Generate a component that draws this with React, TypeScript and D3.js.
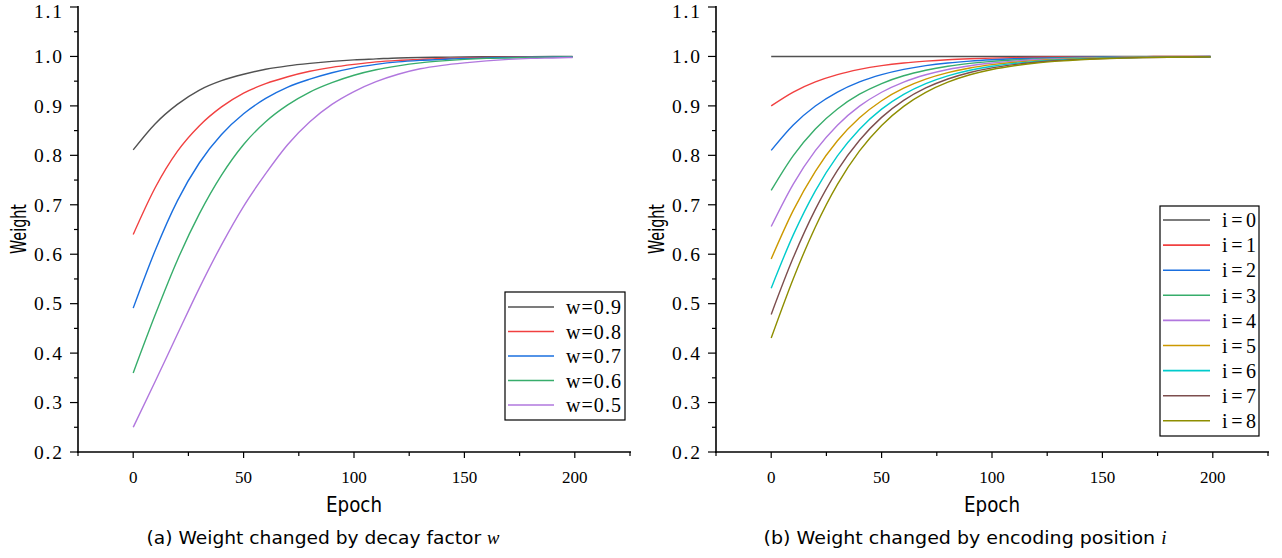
import React from "react";
import { scaleLinear, line, curveMonotoneX, range } from "d3";

// epochs
const epochs = [0, 10, 20, 30, 40, 50, 60, 70, 80, 90, 100, 110, 120, 130, 140, 150, 160, 170, 180, 190, 199];

// (a) decay factor w
const decayLabels = ["w=0.9", "w=0.8", "w=0.7", "w=0.6", "w=0.5"];
const w09 = [0.811, 0.864, 0.903, 0.932, 0.951, 0.964, 0.974, 0.981, 0.986, 0.99, 0.993, 0.995, 0.997, 0.998, 0.9985, 0.999, 0.9993, 0.9995, 0.9997, 0.9998, 0.9998];
const w08 = [0.64, 0.735, 0.808, 0.86, 0.898, 0.926, 0.945, 0.959, 0.97, 0.978, 0.984, 0.989, 0.992, 0.994, 0.996, 0.997, 0.998, 0.9987, 0.9992, 0.9995, 0.9996];
const w07 = [0.491, 0.608, 0.708, 0.785, 0.842, 0.884, 0.915, 0.938, 0.954, 0.967, 0.977, 0.984, 0.989, 0.992, 0.994, 0.996, 0.997, 0.998, 0.9987, 0.9992, 0.9995];
const w06 = [0.36, 0.478, 0.588, 0.682, 0.76, 0.822, 0.868, 0.902, 0.928, 0.947, 0.962, 0.973, 0.981, 0.987, 0.991, 0.994, 0.996, 0.997, 0.998, 0.9985, 0.999];
const w05 = [0.25, 0.343, 0.438, 0.532, 0.619, 0.697, 0.763, 0.822, 0.868, 0.903, 0.929, 0.949, 0.964, 0.975, 0.982, 0.987, 0.991, 0.994, 0.996, 0.997, 0.998];

// (b) encoding position i
const posLabels = ["i=0", "i=1", "i=2", "i=3", "i=4", "i=5", "i=6", "i=7", "i=8"];
const i0 = [1, 1, 1, 1, 1, 1, 1, 1, 1, 1, 1, 1, 1, 1, 1, 1, 1, 1, 1, 1, 1];
const i1 = [0.9, 0.928, 0.9485, 0.9633, 0.9738, 0.9814, 0.9868, 0.9906, 0.9934, 0.9953, 0.9967, 0.9976, 0.9983, 0.9988, 0.9992, 0.9994, 0.9996, 0.9997, 0.9998, 0.9998, 0.9999];
const i2 = [0.81, 0.8614, 0.8997, 0.9279, 0.9484, 0.9631, 0.9738, 0.9814, 0.9868, 0.9906, 0.9933, 0.9953, 0.9966, 0.9976, 0.9983, 0.9988, 0.9992, 0.9994, 0.9996, 0.9997, 0.9998];
const i3 = [0.729, 0.7994, 0.8534, 0.8938, 0.9236, 0.9452, 0.9609, 0.9721, 0.9802, 0.9859, 0.99, 0.9929, 0.995, 0.9964, 0.9975, 0.9982, 0.9987, 0.9991, 0.9994, 0.9996, 0.9997];
const i4 = [0.6561, 0.7419, 0.8094, 0.861, 0.8994, 0.9276, 0.9482, 0.963, 0.9737, 0.9813, 0.9867, 0.9905, 0.9933, 0.9952, 0.9966, 0.9976, 0.9983, 0.9988, 0.9992, 0.9994, 0.9996];
const i5 = [0.5905, 0.6886, 0.7678, 0.8294, 0.8758, 0.9104, 0.9357, 0.954, 0.9672, 0.9767, 0.9834, 0.9882, 0.9916, 0.994, 0.9958, 0.997, 0.9979, 0.9985, 0.999, 0.9993, 0.9995];
const i6 = [0.5314, 0.6391, 0.7283, 0.7989, 0.8529, 0.8934, 0.9233, 0.9451, 0.9608, 0.9721, 0.9802, 0.9859, 0.99, 0.9929, 0.995, 0.9964, 0.9975, 0.9982, 0.9987, 0.9991, 0.9993];
const i7 = [0.4783, 0.5932, 0.6907, 0.7696, 0.8306, 0.8768, 0.9111, 0.9362, 0.9544, 0.9675, 0.9769, 0.9835, 0.9883, 0.9917, 0.9941, 0.9958, 0.9971, 0.9979, 0.9985, 0.999, 0.9992];
const i8 = [0.4305, 0.5505, 0.6552, 0.7413, 0.8089, 0.8605, 0.8991, 0.9274, 0.948, 0.9629, 0.9736, 0.9812, 0.9867, 0.9905, 0.9933, 0.9952, 0.9966, 0.9976, 0.9983, 0.9988, 0.9991];

const xMajor = [0, 50, 100, 150, 200];
const xMinor = [-25, 25, 75, 125, 175, 225];
const yMajor = [0.2, 0.3, 0.4, 0.5, 0.6, 0.7, 0.8, 0.9, 1.0, 1.1];

const palette = ["#515151", "#F14040", "#1A6FDF", "#37AD6B", "#B177DE", "#CC9900", "#00CBCC", "#7D4E4E", "#8E8E00"];

const serif = "'Liberation Serif', 'DejaVu Serif', serif";
const sans = "'DejaVu Sans', 'Liberation Sans', sans-serif";

const y = scaleLinear().domain([0.2, 1.1]).range([452, 7]);

function Panel({ left, series, labels, legend, caption, captionVar, captionX, captionLen }) {
  const x = scaleLinear().domain([-25, 225]).range([left, left + 552]);
  const path = line<number>()
    .x((d, k) => x(epochs[k]))
    .y((d) => y(d))
    .curve(curveMonotoneX);
  const yMinor = range(0.25, 1.1, 0.1);
  const x0 = x(-25);
  const bottom = y(0.2);
  return (
    <g>
      {series.map((s, k) => (
        <path key={k} d={path(s)} fill="none" stroke={palette[k]} strokeWidth={1.4} />
      ))}
      <line x1={x0} x2={x0} y1={y(1.1) - 1} y2={bottom + 1} stroke="#000" strokeWidth={1.6} />
      <line x1={x0 - 1} x2={x(225) + 1} y1={bottom} y2={bottom} stroke="#000" strokeWidth={1.6} />
      {yMajor.map((t) => (
        <g key={t}>
          <line x1={x0 - 8} x2={x0} y1={y(t)} y2={y(t)} stroke="#000" strokeWidth={1.2} />
          <text x={x0 - 16} y={Math.max(y(t) + 6.8, 17.5)} textAnchor="end" fontFamily={serif} fontSize={19.5}
            textLength={28} lengthAdjust="spacing">{t.toFixed(1)}</text>
        </g>
      ))}
      {yMinor.map((t) => (
        <line key={t} x1={x0 - 4} x2={x0} y1={y(t)} y2={y(t)} stroke="#000" strokeWidth={1.2} />
      ))}
      {xMajor.map((t) => (
        <g key={t}>
          <line x1={x(t)} x2={x(t)} y1={bottom} y2={bottom + 6} stroke="#000" strokeWidth={1.2} />
          <text x={x(t)} y={483} textAnchor="middle" fontFamily={serif} fontSize={17}>{t}</text>
        </g>
      ))}
      {xMinor.map((t) => (
        <line key={t} x1={x(t)} x2={x(t)} y1={bottom} y2={bottom + 4} stroke="#000" strokeWidth={1.2} />
      ))}
      <text x={x(100)} y={512} textAnchor="middle" fontFamily={sans} fontSize={22} textLength={56}
        lengthAdjust="spacingAndGlyphs">Epoch</text>
      <text transform={`translate(${left - 60},229) rotate(-90)`} textAnchor="middle" dy="0.36em"
        fontFamily={sans} fontSize={21} textLength={50} lengthAdjust="spacingAndGlyphs">Weight</text>
      <rect x={legend.x} y={legend.y} width={legend.w} height={legend.h} fill="#fff" stroke="#000" strokeWidth={1.2} />
      {labels.map((lab, k) => {
        const ry = legend.y + legend.first + k * legend.step;
        return (
          <g key={lab}>
            <line x1={legend.x + 3} x2={legend.x + legend.line} y1={ry} y2={ry} stroke={palette[k]} strokeWidth={1.6} />
            <text x={legend.x + legend.tx} y={ry} dy="0.36em" fontFamily={serif} fontSize={20}
              textLength={legend.tl} lengthAdjust="spacing">{lab}</text>
          </g>
        );
      })}
      <text x={captionX} y={544} textAnchor="middle" fontFamily={sans} fontSize={18}
        textLength={captionLen} lengthAdjust="spacingAndGlyphs">
        {caption}
        <tspan fontFamily={serif} fontStyle="italic">{captionVar}</tspan>
      </text>
    </g>
  );
}

export default function App() {
  return (
    <svg width={1282} height={558} style={{ position: "absolute", left: 0, top: 0, background: "#fff" }}>
      <Panel
        left={78}
        series={[w09, w08, w07, w06, w05]}
        labels={decayLabels}
        legend={{ x: 505, y: 292, w: 120, h: 128, first: 15, step: 24.5, line: 49, tx: 61, tl: 55 }}
        caption="(a) Weight changed by decay factor "
        captionVar="w"
        captionX={323}
        captionLen={353}
      />
      <Panel
        left={716}
        series={[i0, i1, i2, i3, i4, i5, i6, i7, i8]}
        labels={posLabels}
        legend={{ x: 1160, y: 206, w: 99, h: 230, first: 14, step: 25.1, line: 50, tx: 62, tl: 34 }}
        caption="(b) Weight changed by encoding position "
        captionVar="i"
        captionX={965}
        captionLen={403}
      />
    </svg>
  );
}
